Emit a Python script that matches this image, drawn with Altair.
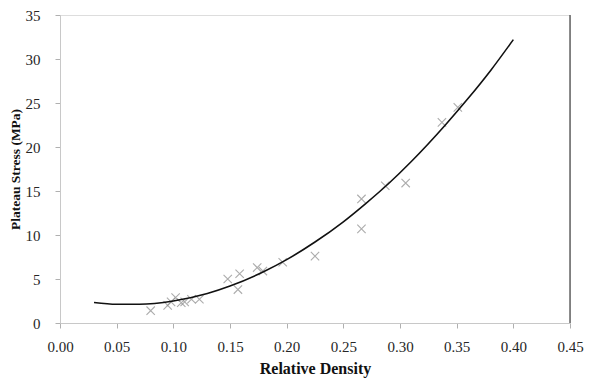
import altair as alt
import pandas as pd

# measured points
density = [0.080, 0.095, 0.098, 0.102, 0.107, 0.110, 0.116, 0.123, 0.148, 0.157, 0.1585,
           0.174, 0.179, 0.1965, 0.225, 0.266, 0.266, 0.287, 0.305, 0.337, 0.351]
stress = [1.4, 2.0, 2.4, 2.9, 2.3, 2.4, 2.7, 2.7, 5.0, 3.8, 5.6,
          6.3, 5.9, 6.9, 7.6, 10.7, 14.1, 15.6, 15.9, 22.8, 24.5]

# fitted trend line
fit_x = [0.03, 0.05, 0.07, 0.10, 0.13, 0.15, 0.18, 0.20, 0.225, 0.25, 0.27, 0.29, 0.31,
         0.34, 0.36, 0.38, 0.40]
fit_y = [2.33, 2.13, 2.13, 2.5, 3.35, 4.2, 5.85, 7.2, 9.2, 11.5, 13.6, 15.85, 18.35,
         22.5, 25.5, 28.7, 32.2]

x_ticks = [0, 0.05, 0.10, 0.15, 0.20, 0.25, 0.30, 0.35, 0.40, 0.45]
y_ticks = [0, 5, 10, 15, 20, 25, 30, 35]

pts = pd.DataFrame({"x": density, "y": stress})
fit = pd.DataFrame({"x": fit_x, "y": fit_y})

FONT = "Liberation Serif"
W, H = 510, 308
xs = alt.Scale(domain=[0, 0.45], nice=False, zero=True)
ys = alt.Scale(domain=[0, 35], nice=False)

xax = alt.Axis(values=x_ticks, format=".2f",
               title="Relative Density", grid=False, domainColor="#c8c8c8", tickColor="#b0b0b0",
               tickSize=5, labelFont=FONT, labelFontSize=15, labelColor="#262626", labelPadding=11,
               titleFont=FONT, titleFontSize=16, titleFontWeight="bold", titleColor="#111111",
               titlePadding=6, labelFlush=False)
yax = alt.Axis(values=y_ticks, title="Plateau Stress (MPa)", grid=False,
               domainColor="#c8c8c8", tickColor="#b0b0b0", tickSize=5, labelFont=FONT,
               labelFontSize=15, labelColor="#262626", labelPadding=15,
               titleFont=FONT, titleFontSize=13.5, titleFontWeight="bold", titleColor="#111111",
               titlePadding=3)

points = alt.Chart(pts).mark_point(
    shape="M-1,-1L1,1M-1,1L1,-1", size=70, filled=False, stroke="#8a8a8a", strokeWidth=1.1
).encode(x=alt.X("x:Q", scale=xs, axis=xax), y=alt.Y("y:Q", scale=ys, axis=yax))

line = alt.Chart(fit).mark_line(color="#111111", strokeWidth=1.6, interpolate="monotone").encode(
    x=alt.X("x:Q", scale=xs), y=alt.Y("y:Q", scale=ys)
)

right = alt.Chart(pd.DataFrame({"a": [0]})).mark_rule(color="#404040", strokeWidth=1.2).encode(
    x=alt.value(W), y=alt.value(0), y2=alt.value(H)
)

chart = alt.layer(points, line, right).properties(
    width=W, height=H,
    autosize=alt.AutoSizeParams(type="none"),
    padding={"left": 52, "top": 7, "right": 14, "bottom": 55},
).configure_view(stroke="#a8a8a8", strokeWidth=1.2).configure(background="white")

chart.save("out.html", embed_options={"renderer": "svg", "actions": False})
